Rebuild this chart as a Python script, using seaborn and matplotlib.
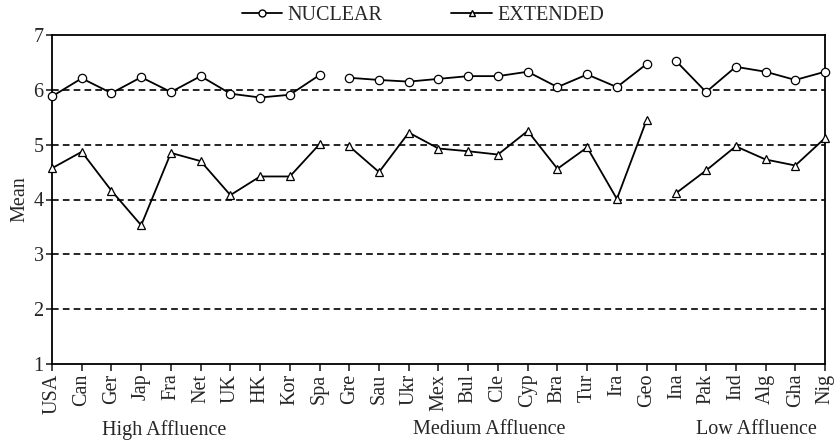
import matplotlib
matplotlib.use("Agg")
import matplotlib.pyplot as plt
import matplotlib.transforms as mtransforms
import seaborn as sns
import pandas as pd
from matplotlib.lines import Line2D

countries = ["USA", "Can", "Ger", "Jap", "Fra", "Net", "UK", "HK", "Kor", "Spa",
             "Gre", "Sau", "Ukr", "Mex", "Bul", "Cle", "Cyp", "Bra", "Tur", "Ira", "Geo",
             "Ina", "Pak", "Ind", "Alg", "Gha", "Nig"]
groups = ["High Affluence"] * 10 + ["Medium Affluence"] * 11 + ["Low Affluence"] * 6
nuclear = [5.88, 6.21, 5.94, 6.23, 5.96, 6.25, 5.93, 5.86, 5.91, 6.27,
           6.22, 6.18, 6.15, 6.20, 6.25, 6.25, 6.33, 6.05, 6.28, 6.05, 6.47,
           6.52, 5.96, 6.42, 6.33, 6.18, 6.33]
extended = [4.57, 4.87, 4.16, 3.53, 4.85, 4.70, 4.08, 4.42, 4.42, 5.01,
            4.97, 4.50, 5.22, 4.93, 4.88, 4.82, 5.25, 4.56, 4.95, 4.01, 5.45,
            4.12, 4.53, 4.97, 4.73, 4.62, 5.12]
series_names = ["NUCLEAR", "EXTENDED"]
group_names = ["High Affluence", "Medium Affluence", "Low Affluence"]

rows = []
for i, c in enumerate(countries):
    rows.append(dict(pos=i, country=c, group=groups[i], series="NUCLEAR", value=nuclear[i]))
    rows.append(dict(pos=i, country=c, group=groups[i], series="EXTENDED", value=extended[i]))
df = pd.DataFrame(rows)
df["unit"] = df["series"] + "_" + df["group"]

sns.set_style("white")
plt.rcParams["font.family"] = ["Liberation Serif", "DejaVu Serif"]
FS = 14.5

fig = plt.figure(figsize=(8.39, 4.41), dpi=100)
ax = fig.add_axes([52 / 839, 1 - 364 / 441, (825 - 52) / 839, (364 - 35) / 441])

for yv in [2, 3, 4, 5, 6]:
    ax.axhline(yv, color="black", ls=(0, (4, 2.5)), lw=1.2, zorder=0)

sns.lineplot(data=df, x="pos", y="value", style="series", units="unit", estimator=None,
             markers={"NUCLEAR": "o", "EXTENDED": "^"}, dashes=False,
             color="black", lw=1.3, markersize=6, markerfacecolor="white",
             markeredgecolor="black", markeredgewidth=0.9, ax=ax, legend=False, zorder=3)
for ln in ax.lines:
    ln.set_clip_on(False)

ax.set_xlim(0, len(countries) - 1)
ax.set_ylim(1, 7)
ax.set_yticks([1, 2, 3, 4, 5, 6, 7])
ax.set_xticks(range(len(countries)))
ax.set_xticklabels(countries, rotation=90, fontsize=FS)
ax.tick_params(axis="y", labelsize=FS, length=4, direction="out", width=1.2, left=True, pad=2)
ax.tick_params(axis="x", length=5, direction="out", width=1.2, bottom=True, pad=2)
ax.set_xlabel("")
ax.set_ylabel("Mean", fontsize=FS, labelpad=3)
for s in ax.spines.values():
    s.set_visible(True)
    s.set_color("black")
    s.set_linewidth(1.3)

trans = mtransforms.blended_transform_factory(ax.transData, fig.transFigure)
for name, xc in zip(group_names, [3.77, 14.7, 23.7]):
    ax.text(xc, 1 - 430 / 441, name, transform=trans, ha="center", va="center", fontsize=FS)

handles = [Line2D([], [], color="black", lw=1.3, marker="o", markersize=5, markerfacecolor="white",
                  markeredgecolor="black"),
           Line2D([], [], color="black", lw=1.3, marker="^", markersize=5, markerfacecolor="white",
                  markeredgecolor="black")]
fig.legend(handles, series_names, loc="center", bbox_to_anchor=(423 / 839, 1 - 15 / 441), ncol=2,
           frameon=False, fontsize=FS, handlelength=2.0, columnspacing=3.4, handletextpad=0.3)

fig.savefig("out.png", dpi=100, facecolor="white")
